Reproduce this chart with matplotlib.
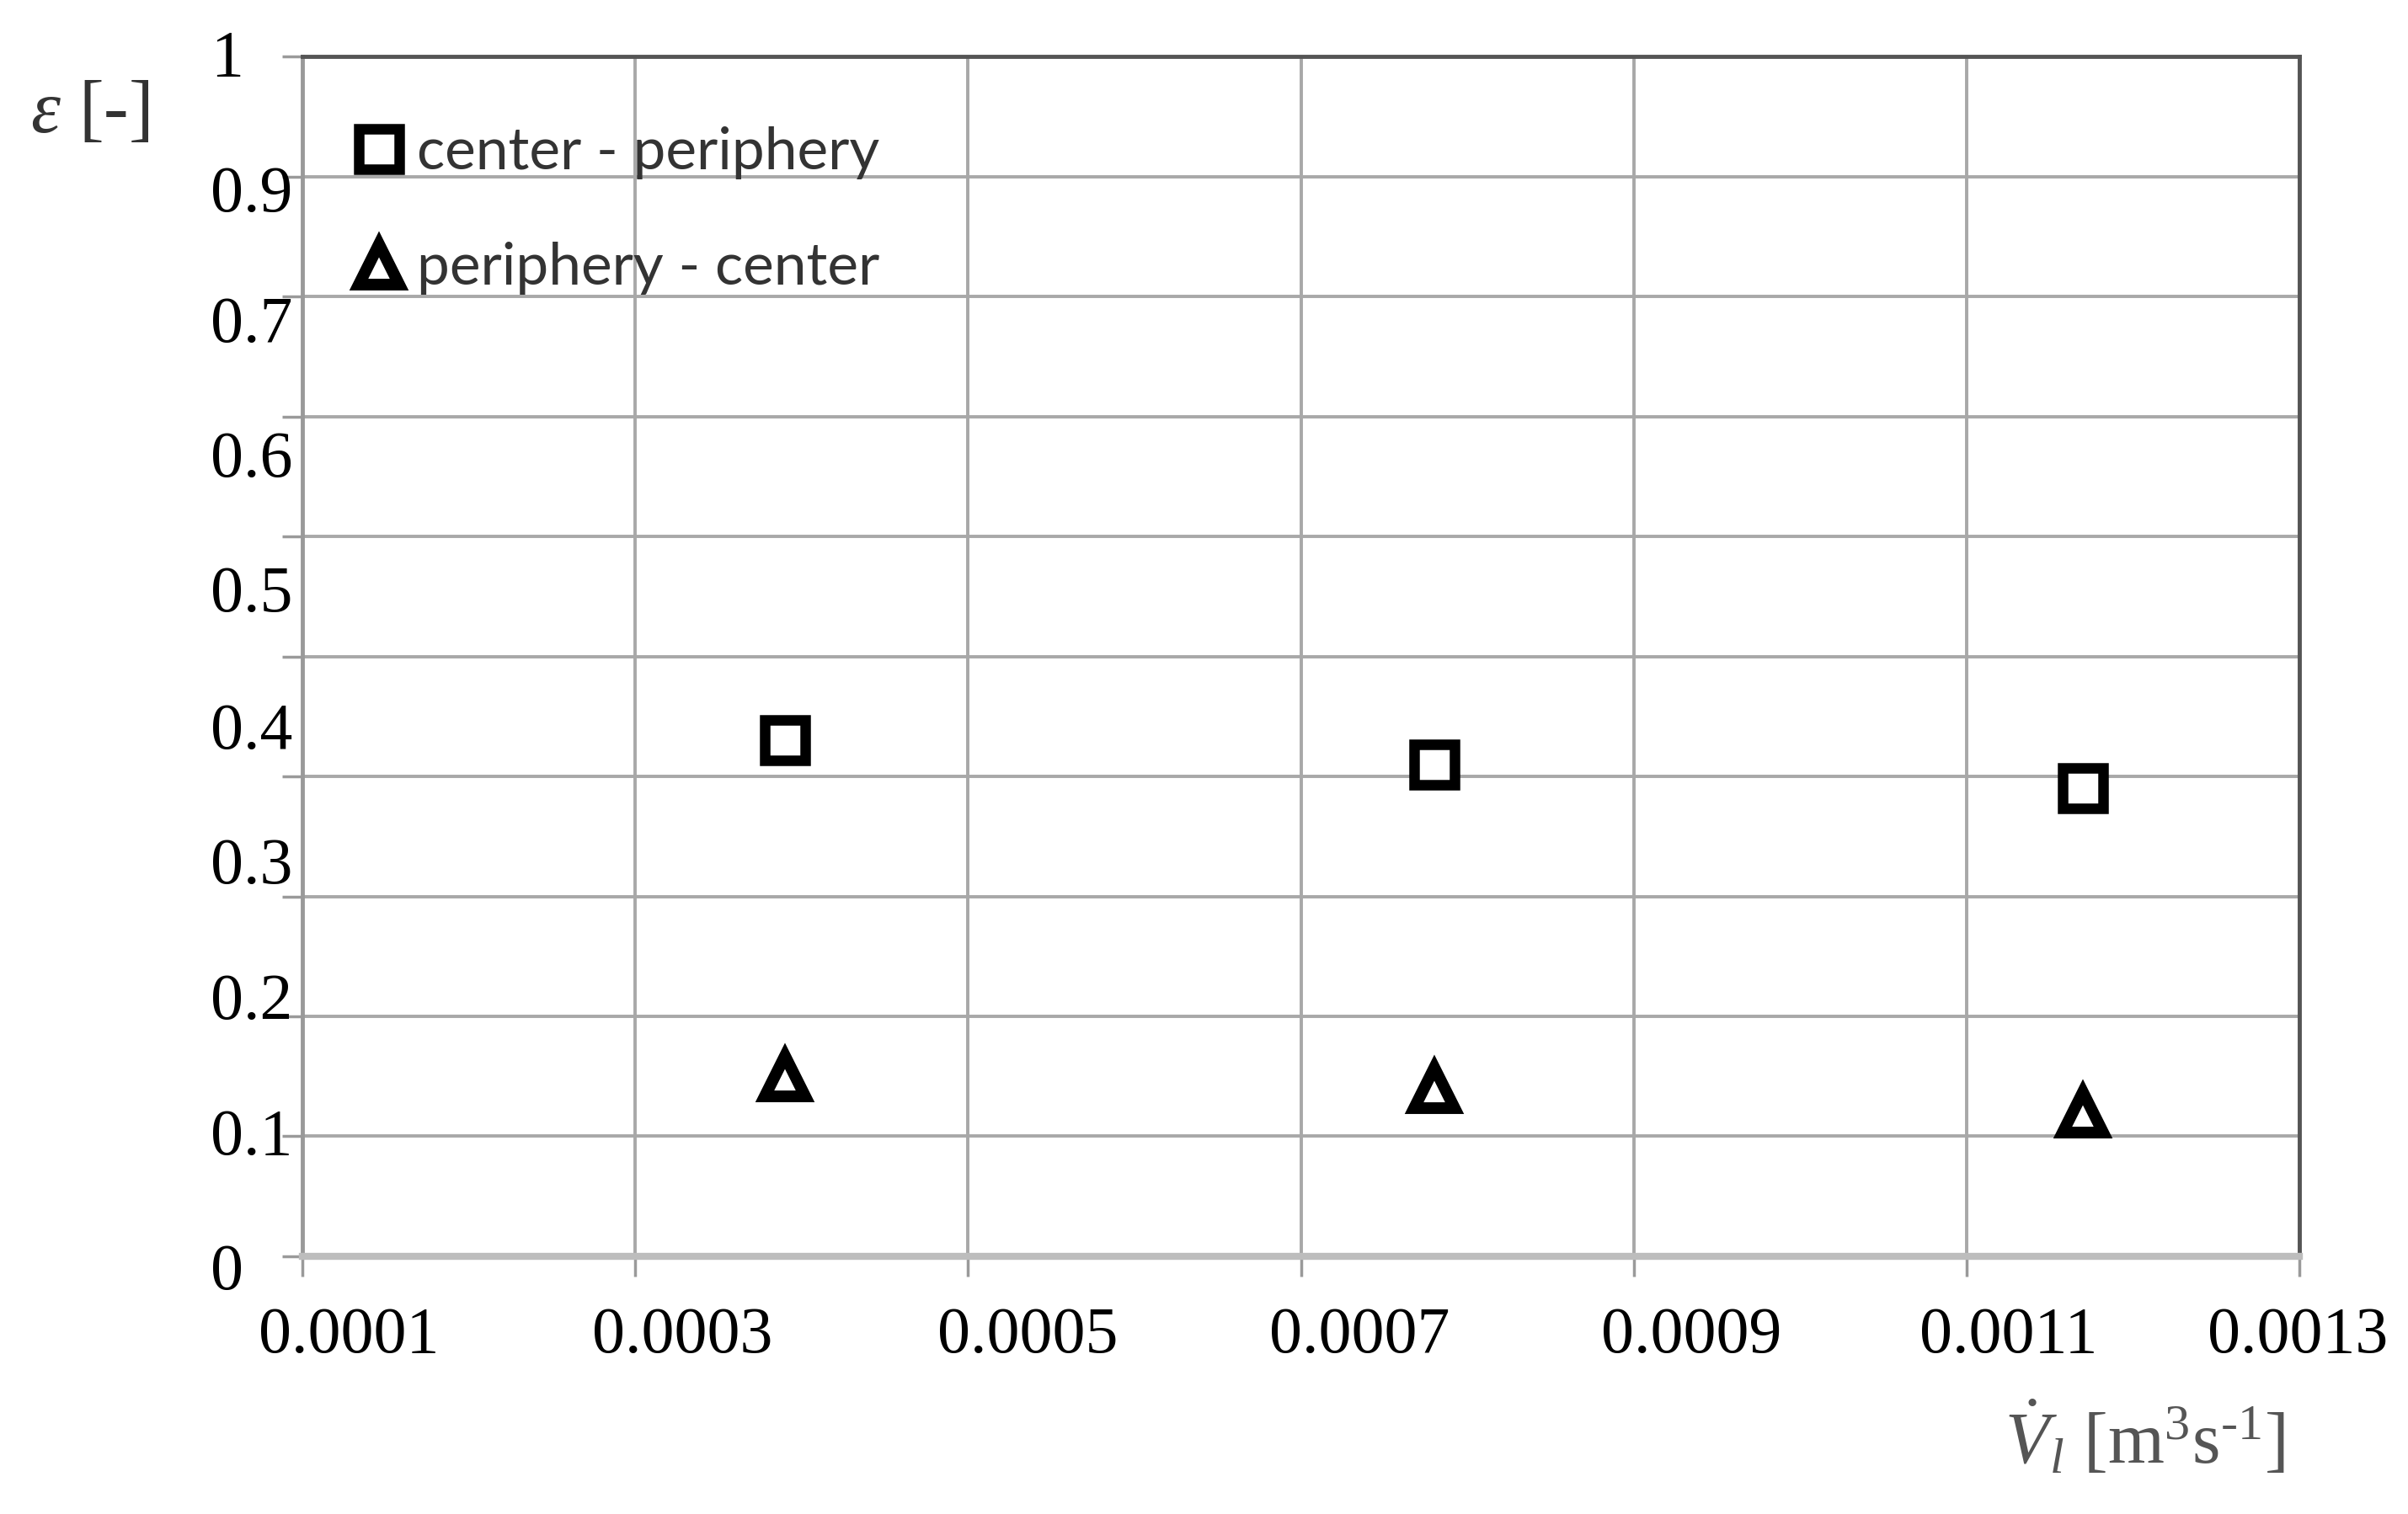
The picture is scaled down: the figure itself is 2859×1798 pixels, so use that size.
import numpy as np
import matplotlib
matplotlib.use("Agg")
import matplotlib.pyplot as plt

plt.rcParams['mathtext.fontset'] = 'custom'
plt.rcParams['mathtext.rm'] = 'Liberation Serif'
plt.rcParams['mathtext.it'] = 'Liberation Serif:italic'

# datos
flow = [0.00039, 0.00078, 0.00117]
eps_center_periphery = [0.43, 0.41, 0.39]
eps_periphery_center = [0.15, 0.14, 0.12]
series_names = ['center - periphery', 'periphery - center']

x_ticks = [0.0001, 0.0003, 0.0005, 0.0007, 0.0009, 0.0011, 0.0013]
x_ticklabels = ['0.0001', '0.0003', '0.0005', '0.0007', '0.0009', '0.0011', '0.0013']
y_ticklabels = ['1', '0.9', '0.7', '0.6', '0.5', '0.4', '0.3', '0.2', '0.1', '0']

# las etiquetas del original no caen sobre las lineas de la rejilla
x_label_pos = [0.0001278, 0.0003283, 0.0005358, 0.0007352, 0.0009346, 0.0011254, 0.001299]
y_label_pos = [0.997, 0.884, 0.775, 0.663, 0.551, 0.436, 0.324, 0.211, 0.098, -0.014]

fig = plt.figure(figsize=(28.59, 17.98), dpi=100)
ax = fig.add_axes([0.1256, 0.1702, 0.8293, 0.7925])

ax.plot(flow, eps_center_periphery, linestyle='none', marker='s', ms=34,
        mfc='white', mec='black', mew=9, zorder=5, label=series_names[0])
ax.plot(flow, eps_periphery_center, linestyle='none', marker='^', ms=35,
        mfc='white', mec='black', mew=10, zorder=5, label=series_names[1])

ax.set_xlim(0.0001, 0.0013)
ax.set_ylim(0, 1)
ax.set_xticks(x_ticks)
ax.set_yticks(np.arange(0, 1.01, 0.1))
ax.tick_params(labelbottom=False, labelleft=False, length=17, width=2.5, color='#9a9a9a')
ax.grid(True, color='#a8a8a8', linewidth=2.8)
ax.set_axisbelow(True)

for side in ['top', 'right']:
    ax.spines[side].set_color('#555555')
    ax.spines[side].set_linewidth(3.5)
ax.spines['left'].set_color('#999999')
ax.spines['left'].set_linewidth(3.5)
ax.spines['bottom'].set_color('#bdbdbd')
ax.spines['bottom'].set_linewidth(6)

tick_font = dict(family='Liberation Serif', fontsize=56, color='black')
for pos, lab in zip(x_label_pos, x_ticklabels):
    ax.text(pos, -0.0665, lab, transform=ax.get_xaxis_transform(),
            ha='center', va='center', **tick_font)
for pos, lab in zip(y_label_pos, y_ticklabels):
    ax.text(-0.046, pos, lab, transform=ax.get_yaxis_transform(),
            ha='left', va='center', **tick_font)

ax.set_ylabel(r'$\mathit{\varepsilon}$ [-]', rotation=0, fontsize=64,
              family='Liberation Serif', color='#333333', ha='center', va='center')
ax.yaxis.set_label_coords(-0.1063, 0.952)
ax.set_xlabel(r'$\dot{V}_l$ [m$^3$s$^{\text{-}1}$]', fontsize=62,
              family='Liberation Serif', color='#555555', va='center')
ax.xaxis.set_label_coords(0.9224, -0.1537)

leg = ax.legend(loc='upper left', bbox_to_anchor=(0.0236, 0.9418), frameon=False,
                prop={'family': 'Lato', 'size': 50}, handlelength=1.0,
                handletextpad=0.15, borderpad=0, borderaxespad=0,
                labelspacing=1.07, numpoints=1)
for t in leg.get_texts():
    t.set_color('#333333')

fig.savefig('out.png', dpi=100, facecolor='white')
